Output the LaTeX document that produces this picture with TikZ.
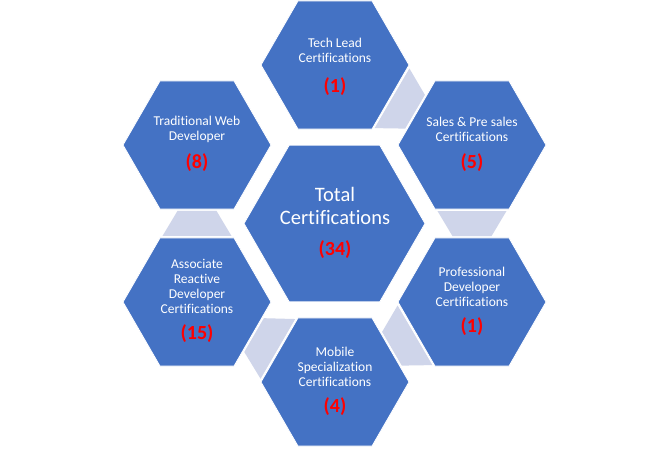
\documentclass[tikz,border=0pt]{standalone}
\usepackage{fontspec}
\setmainfont{Carlito}[Ligatures={NoCommon,NoRare,NoContextual}]
\usetikzlibrary{shapes.geometric,calc}
\definecolor{hexblue}{HTML}{4472C4}
\definecolor{linkfill}{HTML}{CFD5EA}
\definecolor{numred}{HTML}{FF0000}
\newcommand\hexlink[2]{%
  \fill[link] ($(#1.center)!74.5pt!27.6:(#2.center)$) -- ($(#1.center)!74.5pt!-27.6:(#2.center)$)
   -- ($(#2.center)!68.8pt!16.5:(#1.center)$) -- ($(#2.center)!68.8pt!-16.5:(#1.center)$) -- cycle;}
\begin{document}
\begin{tikzpicture}[x=1pt,y=-1pt,
  hexsmall/.style={regular polygon, regular polygon sides=6, minimum size=148pt,
    inner sep=0pt, outer sep=0pt, fill=hexblue, draw=white, line width=0.8pt},
  hexbig/.style={hexsmall, minimum size=181pt},
  lbl/.style={text=white, align=center, font=\fontsize{13.5}{15}\selectfont, inner sep=0pt},
  biglbl/.style={lbl, font=\fontsize{20.5}{23}\selectfont},
  num/.style={text=numred, font=\fontsize{20}{24}\selectfont\bfseries, inner sep=0pt},
  link/.style={fill=linkfill, draw=none}]
\useasboundingbox[fill=white] (0,0) rectangle (670,448);

\node[hexsmall] (tech) at (335,65) {};
\node[hexsmall] (sales) at (472,145) {};
\node[hexsmall] (prof) at (472,302) {};
\node[hexsmall] (mobile) at (335,382) {};
\node[hexsmall] (assoc) at (197,302) {};
\node[hexsmall] (trad) at (197,145) {};
\node[hexbig] (total) at (334.5,223.5) {};

\hexlink{tech}{sales}
\hexlink{sales}{prof}
\hexlink{prof}{mobile}
\hexlink{mobile}{assoc}
\hexlink{assoc}{trad}

\node[lbl] (techlbl) at (335,50) {Tech Lead\\Certifications};
\node[num] (technum) at (335,87) {(1)};
\node[lbl] (saleslbl) at (472,129.5) {Sales \& Pre sales\\Certifications};
\node[num] (salesnum) at (472,163) {(5)};
\node[lbl] (tradlbl) at (197,129.5) {Traditional Web\\Developer};
\node[num] (tradnum) at (197,163) {(8)};
\node[lbl] (proflbl) at (472,287) {Professional\\Developer\\Certifications};
\node[num] (profnum) at (472,327) {(1)};
\node[lbl] (mobilelbl) at (335,366.5) {Mobile\\Specialization\\Certifications};
\node[num] (mobilenum) at (335,407) {(4)};
\node[lbl] (assoclbl) at (197,286.5) {Associate\\Reactive\\Developer\\Certifications};
\node[num] (assocnum) at (197,334) {(15)};
\node[biglbl] (totallbl) at (335,205.5) {Total\\Certifications};
\node[num] (totalnum) at (335,250) {(34)};
\end{tikzpicture}
\end{document}
